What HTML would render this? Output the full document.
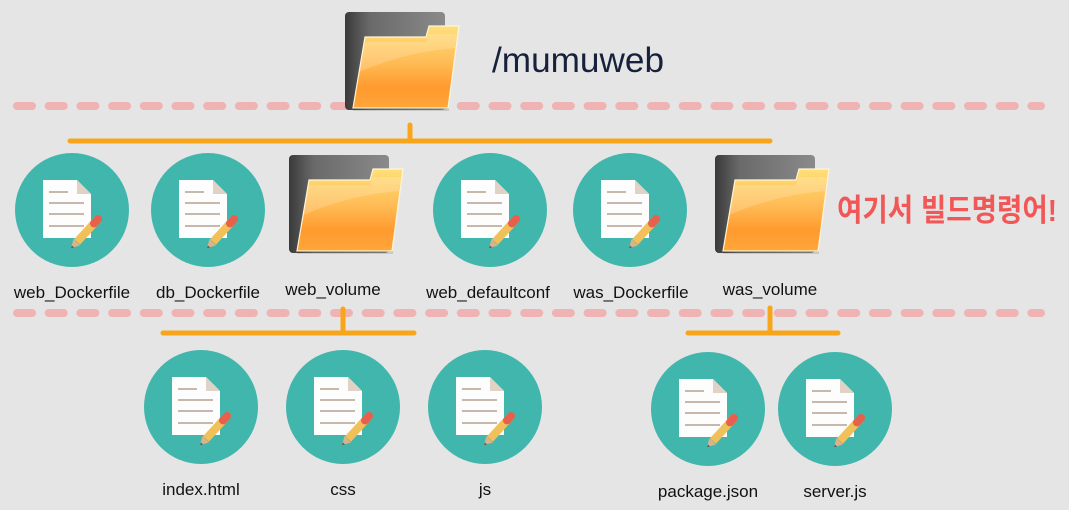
<!DOCTYPE html>
<html><head><meta charset="utf-8"><style>
html,body{margin:0;padding:0;background:#e5e5e5;}
svg{display:block;}
text{font-family:"Liberation Sans","Noto Sans CJK KR",sans-serif;}
</style></head><body>
<svg width="1069" height="510" viewBox="0 0 1069 510" xmlns="http://www.w3.org/2000/svg">
<defs>
  <linearGradient id="fg" x1="0" y1="0" x2="0" y2="1">
    <stop offset="0" stop-color="#ffe07a"/>
    <stop offset="0.45" stop-color="#ffbb55"/>
    <stop offset="0.75" stop-color="#ff9a2e"/>
    <stop offset="1" stop-color="#ffa63a"/>
  </linearGradient>
  <linearGradient id="bg" x1="0" y1="0" x2="1" y2="0">
    <stop offset="0" stop-color="#3a3a3a"/>
    <stop offset="0.25" stop-color="#6a6a6a"/>
    <stop offset="1" stop-color="#8a8a8a"/>
  </linearGradient>
  <g id="folder">
    <rect x="0" y="0" width="100" height="98" rx="4" fill="url(#bg)"/>
    <polygon points="20,25 81,25 84,14 114,14 103,96 8,96" fill="url(#fg)" stroke="#fff6d8" stroke-width="1.2"/>
    <path d="M14,60 Q60,40 110,36 L112,22 L84,22 L81,30 L20,30 Z" fill="#ffffff" opacity="0.18"/>
    <rect x="8" y="96" width="96" height="3" fill="#000" opacity="0.12"/>
  </g>
  <g id="doc">
    <circle cx="0" cy="0" r="57" fill="#41b6ac"/>
    <polygon points="-29,-30 5,-30 19,-16 19,28 -29,28" fill="#fdfdfd"/>
    <polygon points="5,-30 19,-16 5,-16" fill="#e0d2c4"/>
    <g stroke="#c7b8ac" stroke-width="2">
      <line x1="-23" y1="-18" x2="-4" y2="-18"/>
      <line x1="-23" y1="-7" x2="12" y2="-7"/>
      <line x1="-23" y1="4" x2="12" y2="4"/>
      <line x1="-23" y1="16" x2="12" y2="16"/>
    </g>
    <line x1="26" y1="9" x2="5" y2="32" stroke="#f0c05a" stroke-width="8"/>
    <line x1="26" y1="9" x2="22" y2="13.4" stroke="#e8604c" stroke-width="8" stroke-linecap="round"/>
    <polygon points="1.5,29 8,35.5 -1,38" fill="#d9b48a"/>
    <polygon points="0,35.5 2,37.5 -1,38" fill="#555"/>
  </g>
</defs>

<line x1="17" y1="106" x2="1041" y2="106" stroke="#efb3b3" stroke-width="8" stroke-linecap="round" stroke-dasharray="15 16.7"/>
<line x1="17" y1="313" x2="1041" y2="313" stroke="#efb3b3" stroke-width="8" stroke-linecap="round" stroke-dasharray="15 16.7"/>

<use href="#folder" transform="translate(345,12)"/>
<text x="492" y="72" font-size="35" fill="#17213b" textLength="172" lengthAdjust="spacingAndGlyphs">/mumuweb</text>

<g stroke="#f9a51a" stroke-width="5" stroke-linecap="round" fill="none">
  <line x1="70" y1="141" x2="770" y2="141"/>
  <line x1="410" y1="125" x2="410" y2="141"/>
  <line x1="163" y1="333" x2="414" y2="333"/>
  <line x1="343" y1="309" x2="343" y2="333"/>
  <line x1="688" y1="333" x2="838" y2="333"/>
  <line x1="770" y1="308" x2="770" y2="333"/>
</g>

<use href="#doc" transform="translate(72,210)"/>
<use href="#doc" transform="translate(208,210)"/>
<use href="#folder" transform="translate(289,155)"/>
<use href="#doc" transform="translate(490,210)"/>
<use href="#doc" transform="translate(630,210)"/>
<use href="#folder" transform="translate(715,155)"/>
<text x="837" y="221" font-size="31" font-weight="bold" fill="#f25757" textLength="220" lengthAdjust="spacingAndGlyphs">여기서 빌드명령어!</text>

<g font-size="17" fill="#111" text-anchor="middle">
  <text x="72" y="298">web_Dockerfile</text>
  <text x="208" y="298">db_Dockerfile</text>
  <text x="333" y="295">web_volume</text>
  <text x="488" y="298">web_defaultconf</text>
  <text x="631" y="298">was_Dockerfile</text>
  <text x="770" y="295">was_volume</text>
</g>

<use href="#doc" transform="translate(201,407)"/>
<use href="#doc" transform="translate(343,407)"/>
<use href="#doc" transform="translate(485,407)"/>
<use href="#doc" transform="translate(708,409)"/>
<use href="#doc" transform="translate(835,409)"/>
<g font-size="17" fill="#111" text-anchor="middle">
  <text x="201" y="495">index.html</text>
  <text x="343" y="495">css</text>
  <text x="485" y="495">js</text>
  <text x="708" y="497">package.json</text>
  <text x="835" y="497">server.js</text>
</g>
</svg>
</body></html>
